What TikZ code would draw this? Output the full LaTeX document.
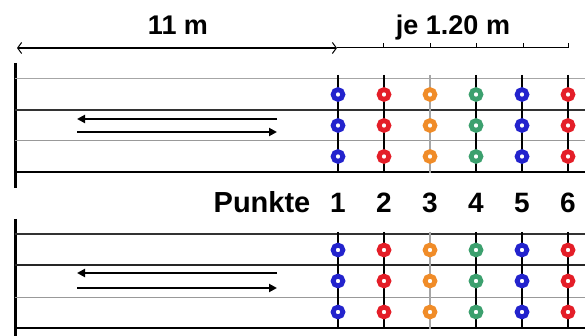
\documentclass[tikz,border=0pt]{standalone}
\usepackage{fontspec}
\setmainfont{Liberation Sans}
\usetikzlibrary{arrows.meta}
\definecolor{ringblue}{RGB}{35,35,205}
\definecolor{ringred}{RGB}{228,30,40}
\definecolor{ringorange}{RGB}{240,140,40}
\definecolor{ringgreen}{RGB}{60,160,110}

\begin{document}
\begin{tikzpicture}[x=1pt, y=-1pt,
  txt/.style = {font=\fontsize{27}{30}\selectfont\bfseries, anchor=base, inner sep=0pt},
  ring/.style = {draw=#1, circle, line width=4.8pt, minimum size=9.8pt, inner sep=0pt, fill=white},
  runarrow/.style = {line width=2.6pt, -{Triangle[length=8pt, width=8pt]}},
  post/.style = {line width=1.5pt}]
	\useasboundingbox (0,0) rectangle (585,336);

	% dimensions
	\coordinate (d0) at (17,48);
	\coordinate (d1) at (337,48);
	\coordinate (d6) at (568,48);
	\draw[line width=1.7pt, {Straight Barb[length=4pt, width=11pt, line width=1pt]}-{Straight Barb[length=4pt, width=11pt, line width=1pt]}] (d0) -- (d1);
	\draw[line width=1pt] (d1) -- (d6);
	\foreach \x in {383,430,476,523,568}
		\draw[line width=1pt] (\x,48) -- (\x,43);
	\node[txt] (weit) at (178,35) {11 m};
	\node[txt] (je) at (453,35) {je 1.20 m};

	% lanes
	\draw[line width=3pt] (15,63) -- (15,188);
	\draw[line width=3pt] (15,219) -- (15,336);
	\draw[gray!70, line width=1pt] (15,79) -- (585,79);
	\draw[black!80, line width=1.2pt] (15,110) -- (585,110);
	\draw[gray!80, line width=1pt] (15,141) -- (585,141);
	\draw[line width=1.5pt] (15,172) -- (585,172);
	\draw[black!80, line width=1.2pt] (15,234) -- (585,234);
	\draw[black!85, line width=1.2pt] (15,265) -- (585,265);
	\draw[gray!80, line width=1pt] (15,297) -- (585,297);
	\draw[line width=1.5pt] (15,328) -- (585,328);

	\coordinate (a1) at (277,119);
	\coordinate (a2) at (77,119);
	\coordinate (a3) at (77,132);
	\coordinate (a4) at (277,132);
	\coordinate (a5) at (277,273);
	\coordinate (a6) at (77,273);
	\coordinate (a7) at (77,288);
	\coordinate (a8) at (277,288);
	\draw[runarrow] (a1) -- (a2);
	\draw[runarrow] (a3) -- (a4);
	\draw[runarrow] (a5) -- (a6);
	\draw[runarrow] (a7) -- (a8);

	% points
	\node[txt, font=\fontsize{29}{32}\selectfont\bfseries] (punkte) at (262,213) {Punkte};
	\foreach \x/\c/\p [count=\i] in {338/ringblue/black, 384/ringred/black, 430/ringorange/gray!70, 476/ringgreen/black, 522/ringblue/black, 568/ringred/black} {
		\node[txt, font=\fontsize{28}{31}\selectfont\bfseries] (n\i) at (\x,213) {\i};
		\coordinate (t\i) at (\x,75);
		\coordinate (u\i) at (\x,173);
		\coordinate (v\i) at (\x,232);
		\coordinate (w\i) at (\x,329);
		\draw[post, draw=\p] (t\i) -- (u\i);
		\draw[post, draw=\p] (v\i) -- (w\i);
		\node[ring=\c] (top\i-1) at (\x,94.5) {};
		\node[ring=\c] (top\i-2) at (\x,125.5) {};
		\node[ring=\c] (top\i-3) at (\x,156.5) {};
		\node[ring=\c] (bot\i-1) at (\x,250) {};
		\node[ring=\c] (bot\i-2) at (\x,281) {};
		\node[ring=\c] (bot\i-3) at (\x,312) {};
	}
\end{tikzpicture}
\end{document}
